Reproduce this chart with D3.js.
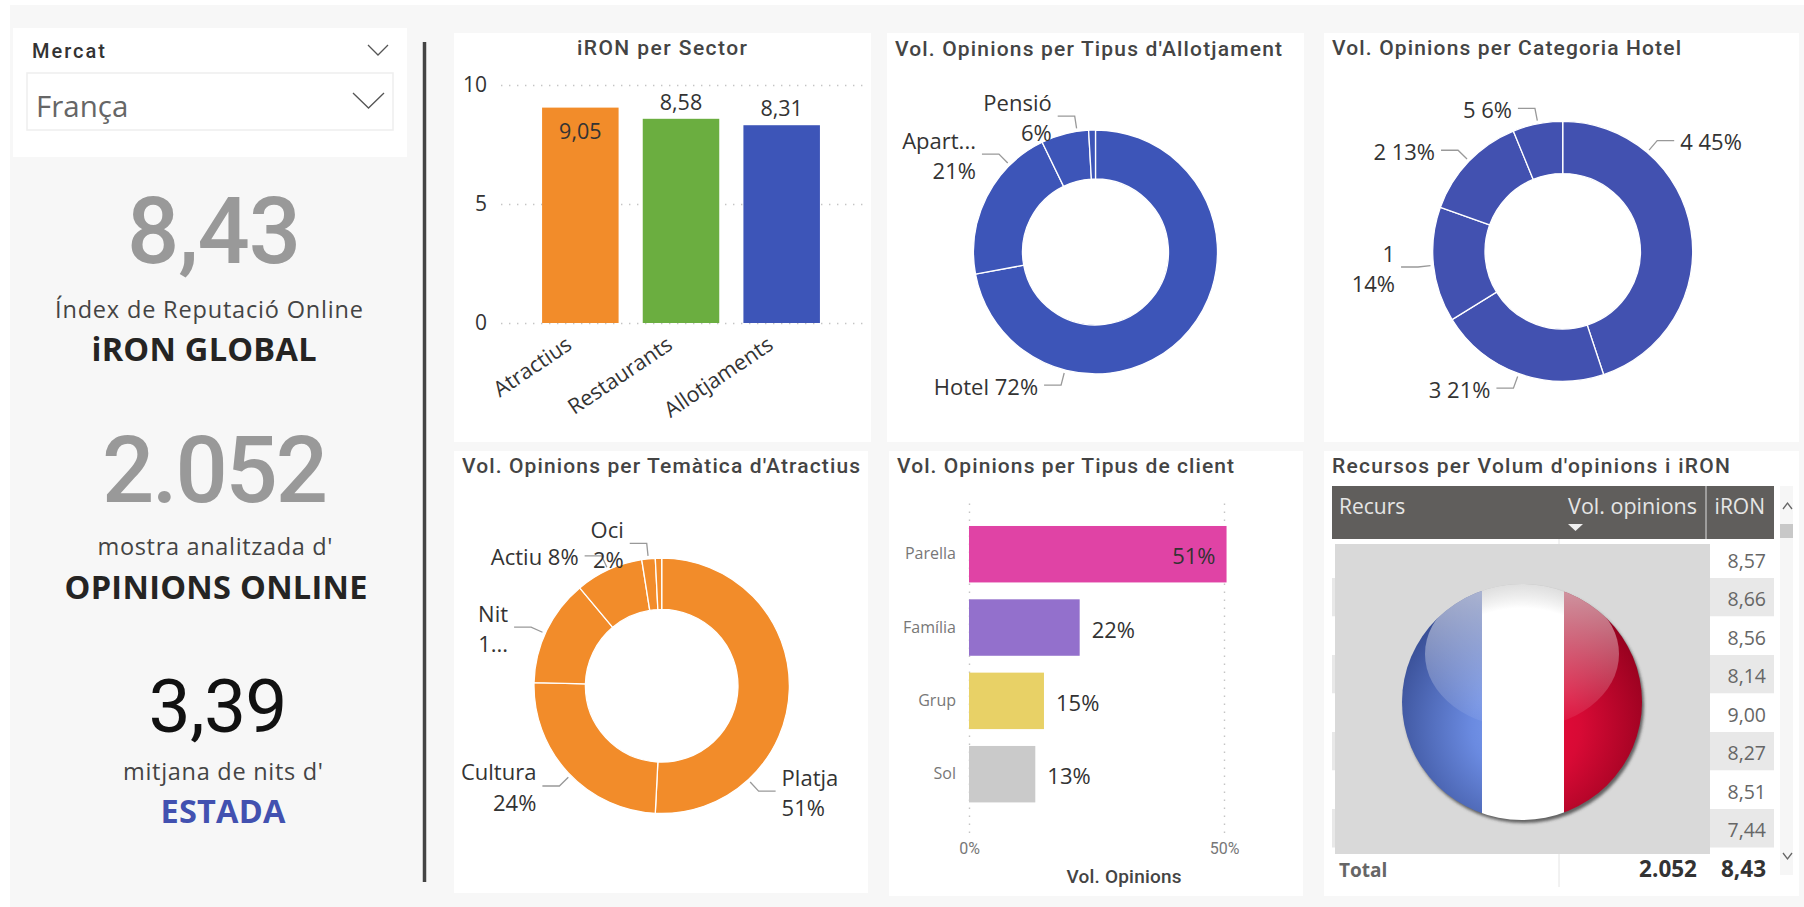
<!DOCTYPE html>
<html lang="ca">

<head>
    <meta charset="UTF-8" />
    <title>iRON França</title>
    <script src="https://d3js.org/d3.v7.min.js"></script>
    <style>
        html, body { margin: 0; padding: 0; background: #fff; }
        svg { display: block; }
        text { font-family: "Open Sans", sans-serif; fill: #333; }
        .din { font-family: Roboto, sans-serif; }
        .title { font-family: Roboto, sans-serif; font-weight: 500; fill: #444; }
        .grid line { stroke: #c4c4c4; stroke-width: 1.4; stroke-dasharray: 1.4 6.6; }
        .grid .domain { display: none; }
        .leader { fill: none; stroke: #999; stroke-width: 1.3; }
        .donut-label { font-size: 22px; }
    </style>
</head>

<body>
    <svg id="chart" width="1804" height="907"></svg>
    <script>
        // kpi column
        const marketName = "França";
        const kpiGlobal = "8,43";
        const kpiOpinions = "2.052";
        const kpiStay = "3,39";

        // iRON per sector
        const sectors = ["Atractius", "Restaurants", "Allotjaments"];
        const sectorValues = [9.05, 8.58, 8.31];
        const sectorTicks = [0, 5, 10];

        // donuts
        const lodgingNames = ["Hotel", "Apartament", "Pensió", "Altres"];
        const lodgingValues = [72.1, 20.7, 6.3, 0.9];
        const lodgingLabels = [["Hotel 72%"], ["Apart...", "21%"], ["Pensió", "6%"], null];

        const hotelNames = ["4", "3", "1", "2", "5"];
        const hotelValues = [44.9, 21.3, 14.3, 13.3, 6.2];
        const hotelLabels = [["4 45%"], ["3 21%"], ["1", "14%"], ["2 13%"], ["5 6%"]];

        const themeNames = ["Platja", "Cultura", "Nit", "Actiu", "Oci", "Altres"];
        const themeValues = [50.8, 24.6, 13.5, 8.6, 1.7, 0.8];
        const themeLabels = [["Platja", "51%"], ["Cultura", "24%"], ["Nit", "1..."], ["Actiu 8%"], ["Oci", "2%"], null];

        // client type
        const clients = ["Parella", "Família", "Grup", "Sol"];
        const clientValues = [50.5, 21.7, 14.7, 13.0];
        const clientLabels = ["51%", "22%", "15%", "13%"];
        const clientTicks = [0, 50];

        // resources table
        const tableIron = ["8,57", "8,66", "8,56", "8,14", "9,00", "8,27", "8,51", "7,44"];
        const tableTotalVolume = "2.052";
        const tableTotalIron = "8,43";

        const BLUE = "#3d55b8";
        const BLUE_2 = "#4251b0";
        const ORANGE = "#f28c2a";
        const sectorColors = ["#f28c2a", "#6bae40", "#3d55b8"];
        const clientColors = ["#e043a5", "#9370cc", "#e8d166", "#cacaca"];

        const svg = d3.select("#chart");

        function addText(x, y, str, size, opts) {
            opts = opts || {};
            const t = svg.append("text")
                .attr("x", x)
                .attr("y", y)
                .attr("text-anchor", opts.anchor || "start")
                .style("font-size", size + "px")
                .text(str);
            if (opts.cls) t.attr("class", opts.cls);
            if (opts.weight) t.style("font-weight", opts.weight);
            if (opts.color) t.style("fill", opts.color);
            if (opts.len) t.attr("textLength", opts.len).attr("lengthAdjust", opts.adjust || "spacing");
            return t;
        }

        function panel(x, y, w, h, fill) {
            svg.append("rect").attr("x", x).attr("y", y).attr("width", w).attr("height", h).attr("fill", fill || "#fff");
        }

        function chevron(x0, x1, y0, y1, color) {
            const line = d3.line();
            svg.append("path")
                .attr("d", line([[x0, y0], [(x0 + x1) / 2, y1], [x1, y0]]))
                .attr("fill", "none")
                .attr("stroke", color)
                .attr("stroke-width", 1.3);
        }

        // page background and cards
        panel(10, 5, 1794, 902, "#f7f7f7");
        panel(13, 28, 394, 129);
        panel(454, 33, 417, 409);
        panel(887, 33, 417, 409);
        panel(1324, 33, 475, 409);
        panel(454, 451, 414, 442);
        panel(889, 451, 414, 445);
        panel(1324, 451, 475, 445);

        // slicer
        addText(32, 58, "Mercat", 20, { cls: "din", weight: 500, color: "#333", len: 73 });
        chevron(368, 388, 45, 55, "#555");
        svg.append("rect").attr("x", 27).attr("y", 73).attr("width", 366).attr("height", 57)
            .attr("fill", "#fff").attr("stroke", "#eee").attr("stroke-width", 1.5);
        addText(36, 117, marketName, 29.5, { color: "#666" });
        chevron(353, 384, 93, 108, "#555");

        // divider
        svg.append("line").attr("x1", 424.5).attr("x2", 424.5).attr("y1", 42).attr("y2", 882)
            .attr("stroke", "#444").attr("stroke-width", 3.5);

        // kpis
        addText(214, 263, kpiGlobal, 92, { cls: "din", anchor: "middle", weight: 500, color: "#999", len: 174 });
        addText(209, 318, "Índex de Reputació Online", 23.5, { anchor: "middle", color: "#444", len: 308 });
        addText(204, 361, "iRON GLOBAL", 32.5, { anchor: "middle", weight: 700, color: "#252423", len: 225 });

        addText(215, 502, kpiOpinions, 92, { cls: "din", anchor: "middle", weight: 500, color: "#999", len: 226 });
        addText(215, 555, "mostra analitzada d'", 23.5, { anchor: "middle", color: "#444", len: 235 });
        addText(216, 599, "OPINIONS ONLINE", 32.5, { anchor: "middle", weight: 700, color: "#252423", len: 303 });

        addText(218, 732, kpiStay, 75, { cls: "din", anchor: "middle", color: "#111", len: 139 });
        addText(223, 780, "mitjana de nits d'", 23.5, { anchor: "middle", color: "#444", len: 200 });
        addText(223, 823, "ESTADA", 32.5, { anchor: "middle", weight: 700, color: BLUE_2, len: 125 });

        // panel titles
        addText(662, 55, "iRON per Sector", 21, { cls: "title", anchor: "middle", len: 170 });
        addText(895, 56, "Vol. Opinions per Tipus d'Allotjament", 21, { cls: "title", len: 387 });
        addText(1332, 55, "Vol. Opinions per Categoria Hotel", 21, { cls: "title", len: 349 });
        addText(462, 473, "Vol. Opinions per Temàtica d'Atractius", 21, { cls: "title", len: 398 });
        addText(897, 473, "Vol. Opinions per Tipus de client", 21, { cls: "title", len: 337 });
        addText(1332, 473, "Recursos per Volum d'opinions i iRON", 21, { cls: "title", len: 398 });

        // iRON per sector
        const sectorX = d3.scaleBand().domain(sectors).range([530, 832]).paddingInner(0.24).paddingOuter(0.12);
        const sectorY = d3.scaleLinear().domain([0, 10]).range([323, 85]);

        const sectorAxis = svg.append("g")
            .attr("class", "grid")
            .attr("transform", "translate(501,0)")
            .call(d3.axisLeft(sectorY).tickValues(sectorTicks).tickSize(-362).tickPadding(14));
        sectorAxis.selectAll("text").style("font-size", "21px").style("fill", "#333");

        svg.selectAll(".sector-bar")
            .data(sectors)
            .enter()
            .append("rect")
            .attr("class", "sector-bar")
            .attr("x", d => sectorX(d))
            .attr("y", (d, i) => sectorY(sectorValues[i]))
            .attr("width", sectorX.bandwidth())
            .attr("height", (d, i) => sectorY(0) - sectorY(sectorValues[i]))
            .attr("fill", (d, i) => sectorColors[i]);

        svg.selectAll(".sector-value")
            .data(sectors)
            .enter()
            .append("text")
            .attr("class", "sector-value")
            .attr("x", d => sectorX(d) + sectorX.bandwidth() / 2)
            // first bar is tall enough that the label sits inside
            .attr("y", (d, i) => sectorY(sectorValues[i]) + (sectorValues[i] > 9 ? 31 : -9))
            .attr("text-anchor", "middle")
            .style("font-size", "21.5px")
            .text((d, i) => d3.format(".2f")(sectorValues[i]).replace(".", ","));

        const sectorTickAxis = svg.append("g")
            .attr("transform", "translate(0,323)")
            .call(d3.axisBottom(sectorX).tickSize(0));
        sectorTickAxis.select(".domain").remove();
        sectorTickAxis.selectAll("text")
            .attr("x", 0).attr("y", 0).attr("dy", 0)
            .attr("text-anchor", "end")
            .attr("transform", "translate(-7,25) rotate(-34)")
            .style("font-size", "21.5px")
            .style("fill", "#333");

        // donut with power bi style leader labels
        function drawDonut(cfg) {
            const pie = d3.pie().sort(null).value(d => d)(cfg.values);
            const arc = d3.arc().innerRadius(cfg.inner).outerRadius(cfg.outer);
            const g = svg.append("g").attr("transform", "translate(" + cfg.cx + "," + cfg.cy + ")");

            g.selectAll("path.slice")
                .data(pie)
                .enter()
                .append("path")
                .attr("class", "slice")
                .attr("d", arc)
                .attr("fill", cfg.color)
                .attr("stroke", "#fff")
                .attr("stroke-width", 1.3);

            cfg.labels.forEach((lines, i) => {
                if (!lines) return;
                const a = cfg.leaderAngles[i] * Math.PI / 180;
                const p0 = d3.pointRadial(a, cfg.outer + 3);
                const p1 = d3.pointRadial(a, cfg.outer + 15.5);
                const side = Math.sin(a) > 0 ? 1 : -1;
                const p2 = [p1[0] + side * 17, p1[1]];
                g.append("path").attr("class", "leader").attr("d", d3.line()([p0, p1, p2]));

                const tx = p2[0] + side * 6;
                lines.forEach((s, k) => {
                    const dy = lines.length === 1 ? 9.5 : (k === 0 ? -5.5 : 25);
                    g.append("text")
                        .attr("class", "donut-label")
                        .attr("x", tx)
                        .attr("y", p1[1] + dy)
                        .attr("text-anchor", side > 0 ? "start" : "end")
                        .text(s);
                });
            });
        }

        drawDonut({
            cx: 1095.5, cy: 252, outer: 122, inner: 73, color: BLUE,
            values: lodgingValues, labels: lodgingLabels,
            leaderAngles: [194.5, 315.4, 351.3, 0]
        });
        drawDonut({
            cx: 1562.7, cy: 251.3, outer: 130, inner: 77.7, color: BLUE_2,
            values: hotelValues, labels: hotelLabels,
            leaderAngles: [40.5, 199.8, 263.8, 314, 349]
        });
        drawDonut({
            cx: 661.7, cy: 685.8, outer: 127.7, inner: 76.3, color: ORANGE,
            values: themeValues, labels: themeLabels,
            leaderAngles: [137.4, 225.6, 294.2, 335.2, 354, 0]
        });

        // client type bars
        const clientX = d3.scaleLinear().domain([0, 50]).range([969, 1224]);
        const clientY = d3.scaleBand().domain(clients).range([499, 829.4]).paddingInner(0.23).paddingOuter(0.368);

        const clientAxis = svg.append("g")
            .attr("class", "grid")
            .attr("transform", "translate(0,833)")
            .call(d3.axisBottom(clientX).tickValues(clientTicks).tickFormat(d => d + "%").tickSize(-334).tickPadding(10));
        clientAxis.selectAll("text").attr("class", "din").style("font-size", "16px").style("fill", "#777");

        svg.selectAll(".client-bar")
            .data(clients)
            .enter()
            .append("rect")
            .attr("class", "client-bar")
            .attr("x", clientX(0))
            .attr("y", d => clientY(d))
            .attr("width", (d, i) => clientX(clientValues[i]) - clientX(0))
            .attr("height", clientY.bandwidth())
            .attr("fill", (d, i) => clientColors[i]);

        const clientCats = svg.append("g")
            .attr("transform", "translate(969,0)")
            .call(d3.axisLeft(clientY).tickSize(0).tickPadding(13));
        clientCats.select(".domain").remove();
        clientCats.selectAll("text").style("font-size", "16px").style("fill", "#777");

        svg.selectAll(".client-value")
            .data(clients)
            .enter()
            .append("text")
            .attr("class", "client-value")
            .attr("x", (d, i) => clientValues[i] > 40 ? clientX(clientValues[i]) - 11 : clientX(clientValues[i]) + 12)
            .attr("y", d => clientY(d) + clientY.bandwidth() / 2 + 10)
            .attr("text-anchor", (d, i) => clientValues[i] > 40 ? "end" : "start")
            .style("font-size", "22px")
            .text((d, i) => clientLabels[i]);

        addText(1124, 883, "Vol. Opinions", 19, { cls: "din", anchor: "middle", weight: 500, color: "#444", len: 115 });

        // table
        panel(1332, 486, 442, 53, "#605e5c");
        svg.append("line").attr("x1", 1706).attr("x2", 1706).attr("y1", 486).attr("y2", 539).attr("stroke", "#ddd");
        addText(1339, 514, "Recurs", 21, { color: "#e6e6e6" });
        addText(1697, 514, "Vol. opinions", 21.5, { anchor: "end", color: "#e6e6e6" });
        addText(1765, 514, "iRON", 21, { anchor: "end", color: "#e6e6e6" });
        svg.append("path").attr("d", d3.line()([[1568, 524], [1583, 524], [1575.5, 531]])).attr("fill", "#f0f0f0");

        const rowY = d3.scaleBand().domain(d3.range(tableIron.length)).range([539.5, 847.5]);
        svg.selectAll(".row-bg")
            .data(tableIron)
            .enter()
            .append("rect")
            .attr("class", "row-bg")
            .attr("x", 1332)
            .attr("y", (d, i) => rowY(i))
            .attr("width", 442)
            .attr("height", rowY.bandwidth())
            .attr("fill", (d, i) => i % 2 ? "#e8e8e8" : "#fff");
        svg.selectAll(".row-val")
            .data(tableIron)
            .enter()
            .append("text")
            .attr("class", "row-val")
            .attr("x", 1766)
            .attr("y", (d, i) => rowY(i) + 28)
            .attr("text-anchor", "end")
            .style("font-size", "19.5px")
            .style("fill", "#666")
            .text(d => d);

        svg.append("line").attr("x1", 1559).attr("x2", 1559).attr("y1", 539).attr("y2", 887).attr("stroke", "#e4e4e4");
        addText(1339, 877, "Total", 19, { weight: 700, color: "#666" });
        addText(1697, 877, tableTotalVolume, 22.5, { anchor: "end", weight: 700, color: "#333" });
        addText(1766, 877, tableTotalIron, 22.5, { anchor: "end", weight: 700, color: "#333" });

        // scrollbar
        panel(1780, 486, 13, 389, "#f6f6f6");
        panel(1780, 524, 13, 14, "#c8c8c8");
        chevron(1783, 1792, 509, 503, "#666");
        chevron(1783, 1792, 853, 859, "#666");

        // flag picture on top of the table
        panel(1335, 544, 375, 310, "#d9d9d9");

        const defs = svg.append("defs");
        const fcx = 1522, fcy = 702, fr = 120;

        function radial(id, stops) {
            const grad = defs.append("radialGradient").attr("id", id)
                .attr("gradientUnits", "userSpaceOnUse")
                .attr("cx", fcx).attr("cy", fcy + 25).attr("r", fr + 25);
            stops.forEach(s => grad.append("stop").attr("offset", s[0]).attr("stop-color", s[1]));
        }
        radial("flagBlue", [[0, "#7fa2f5"], [0.35, "#6a8ae0"], [1, "#34498f"]]);
        radial("flagRed", [[0, "#f00a3c"], [0.4, "#d80a35"], [1, "#8e001c"]]);
        radial("flagWhite", [[0, "#fff"], [0.82, "#fff"], [1, "#a8a8a8"]]);

        const gloss = defs.append("linearGradient").attr("id", "flagGloss").attr("x1", 0).attr("x2", 0).attr("y1", 0).attr("y2", 1);
        gloss.append("stop").attr("offset", 0).attr("stop-color", "#fff").attr("stop-opacity", 0.62);
        gloss.append("stop").attr("offset", 1).attr("stop-color", "#fff").attr("stop-opacity", 0.03);

        defs.append("filter").attr("id", "flagBlur").append("feGaussianBlur").attr("stdDeviation", 1.8);
        defs.append("clipPath").attr("id", "flagClip")
            .append("ellipse").attr("cx", fcx).attr("cy", fcy).attr("rx", fr).attr("ry", fr - 2);

        svg.append("ellipse").attr("cx", fcx + 2).attr("cy", fcy + 3).attr("rx", fr).attr("ry", fr - 2)
            .attr("fill", "#444").attr("fill-opacity", 0.8).attr("filter", "url(#flagBlur)");
        const flag = svg.append("g").attr("clip-path", "url(#flagClip)");
        flag.append("rect").attr("x", fcx - fr).attr("y", fcy - fr).attr("width", 1482 - fcx + fr).attr("height", fr * 2).attr("fill", "url(#flagBlue)");
        flag.append("rect").attr("x", 1482).attr("y", fcy - fr).attr("width", 82).attr("height", fr * 2).attr("fill", "url(#flagWhite)");
        flag.append("rect").attr("x", 1564).attr("y", fcy - fr).attr("width", fcx + fr - 1564).attr("height", fr * 2).attr("fill", "url(#flagRed)");
        flag.append("ellipse").attr("cx", fcx).attr("cy", 654).attr("rx", 97).attr("ry", 74).attr("fill", "url(#flagGloss)");
    </script>
</body>

</html>
